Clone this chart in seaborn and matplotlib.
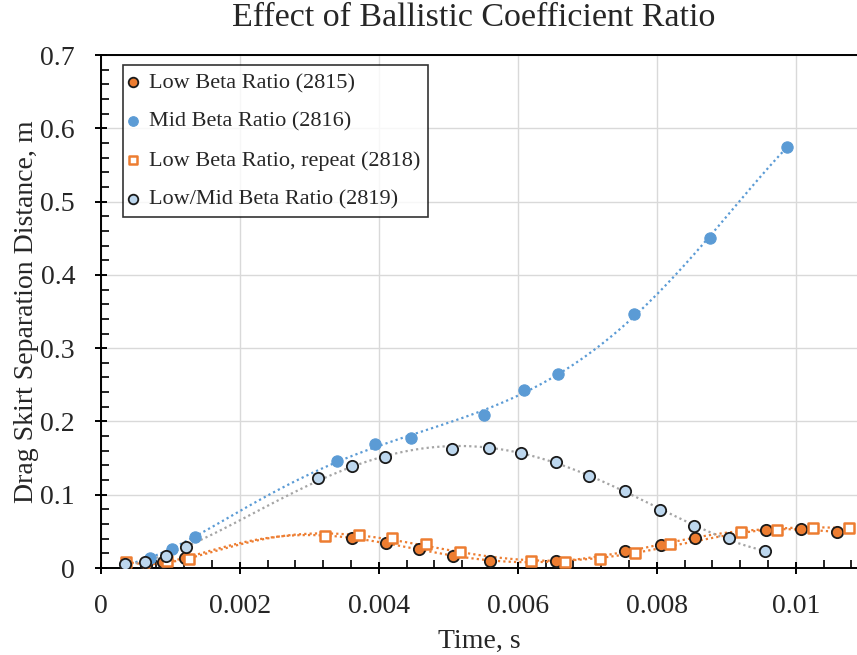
import numpy as np
import pandas as pd
import matplotlib
matplotlib.use("Agg")
import matplotlib.pyplot as plt
from matplotlib.ticker import MultipleLocator
import seaborn as sns
import warnings

warnings.filterwarnings("ignore")

# Test 2815: low beta ratio
t_2815 = [0.00065, 0.00090, 0.00121, 0.00362, 0.00410, 0.00458, 0.00507, 0.00560,
          0.00655, 0.00754, 0.00806, 0.00855, 0.00957, 0.01008, 0.01059]
d_2815 = [0.0040, 0.0080, 0.0133, 0.0410, 0.0340, 0.0255, 0.0168, 0.0096,
          0.0096, 0.0230, 0.0320, 0.0410, 0.0520, 0.0535, 0.0490]

# Test 2816: mid beta ratio
t_2816 = [0.00035, 0.00071, 0.00102, 0.00136, 0.00340, 0.00395, 0.00447, 0.00552,
          0.00609, 0.00658, 0.00767, 0.00877, 0.00987]
d_2816 = [0.0060, 0.0133, 0.0260, 0.0425, 0.1466, 0.1690, 0.1780, 0.2090,
          0.2430, 0.2650, 0.3466, 0.4500, 0.5747]

# Test 2818: low beta ratio, repeat
t_2818 = [0.00037, 0.00095, 0.00127, 0.00322, 0.00371, 0.00419, 0.00468, 0.00517,
          0.00619, 0.00668, 0.00718, 0.00769, 0.00819, 0.00921, 0.00973, 0.01024, 0.01077]
d_2818 = [0.0080, 0.0100, 0.0123, 0.0437, 0.0450, 0.0406, 0.0324, 0.0223,
          0.0096, 0.0078, 0.0127, 0.0209, 0.0324, 0.0488, 0.0523, 0.0542, 0.0550]

# Test 2819: low/mid beta ratio
t_2819 = [0.00035, 0.00064, 0.00094, 0.00123, 0.00313, 0.00361, 0.00409, 0.00505,
          0.00558, 0.00605, 0.00655, 0.00703, 0.00754, 0.00804, 0.00854, 0.00904, 0.00955]
d_2819 = [0.0060, 0.0086, 0.0168, 0.0283, 0.1225, 0.1390, 0.1520, 0.1620,
          0.1640, 0.1575, 0.1450, 0.1260, 0.1056, 0.0790, 0.0574, 0.0406, 0.0228]

series_names = ["Low Beta Ratio (2815)", "Mid Beta Ratio (2816)",
                "Low Beta Ratio, repeat (2818)", "Low/Mid Beta Ratio (2819)"]

x_ticks = [0, 0.002, 0.004, 0.006, 0.008, 0.01]
x_tick_labels = ["0", "0.002", "0.004", "0.006", "0.008", "0.01"]
y_ticks = [0, 0.1, 0.2, 0.3, 0.4, 0.5, 0.6, 0.7]
y_tick_labels = ["0", "0.1", "0.2", "0.3", "0.4", "0.5", "0.6", "0.7"]

ORANGE = "#ED7D31"
BLUE = "#5B9BD5"
LIGHT_BLUE = "#BDD7EE"
GREY = "#A5A5A5"

sns.set_style("white")
plt.rcParams["font.family"] = ["Liberation Serif", "DejaVu Serif"]

fig = plt.figure(figsize=(8.57, 6.55), dpi=100)
ax = fig.add_axes([0.1175, 0.1328, 0.8825, 0.7832])

# Polynomial trendlines, dotted
dotted = (0, (1, 1.4))
for xs, ys, col, order in [(t_2815, d_2815, ORANGE, 6), (t_2816, d_2816, BLUE, 5),
                           (t_2818, d_2818, ORANGE, 6), (t_2819, d_2819, GREY, 4)]:
    sns.regplot(x=np.array(xs), y=np.array(ys), ax=ax, order=order, ci=None,
                scatter=False, truncate=True,
                line_kws=dict(color=col, lw=1.6, linestyle=dotted, zorder=2))

ms = 66
sns.scatterplot(x=t_2815, y=d_2815, ax=ax, marker="o", s=ms, color=ORANGE,
                edgecolor="#1a1a1a", linewidth=1.3, label=series_names[0], zorder=3)
sns.scatterplot(x=t_2816, y=d_2816, ax=ax, marker="o", s=ms, color=BLUE,
                edgecolor=BLUE, linewidth=0.8, label=series_names[1], zorder=3)
sns.scatterplot(x=t_2818, y=d_2818, ax=ax, marker="s", s=52, color="white",
                edgecolor=ORANGE, linewidth=1.8, label=series_names[2], zorder=3)
sns.scatterplot(x=t_2819, y=d_2819, ax=ax, marker="o", s=ms, color=LIGHT_BLUE,
                edgecolor="#1a1a1a", linewidth=1.3, label=series_names[3], zorder=3)

ax.set_xlim(0, 0.01088)
ax.set_ylim(0, 0.7)
ax.set_xticks(x_ticks)
ax.set_xticklabels(x_tick_labels)
ax.set_yticks(y_ticks)
ax.set_yticklabels(y_tick_labels)
ax.xaxis.set_minor_locator(MultipleLocator(0.0004))
ax.yaxis.set_minor_locator(MultipleLocator(0.02))

ax.grid(True, which="major", color="#D9D9D9", lw=1.0)
ax.set_axisbelow(True)

for side in ["left", "bottom", "top"]:
    ax.spines[side].set_visible(True)
    ax.spines[side].set_color("black")
    ax.spines[side].set_linewidth(1.4)
ax.spines["right"].set_visible(False)

ax.tick_params(which="major", direction="inout", length=9, width=1.4, color="black",
               labelsize=20, pad=14, bottom=True, left=True, top=False, right=False)
ax.tick_params(which="minor", direction="in", length=6, width=1.2, color="black",
               bottom=True, left=True, top=False, right=False)
ax.tick_params(axis="y", which="major", pad=14)

ax.set_xlabel("Time, s", fontsize=20, labelpad=7)
ax.set_ylabel("Drag Skirt Separation Distance, m", fontsize=20, labelpad=1)
fig.text(473.5 / 857, 1 - 18 / 655, "Effect of Ballistic Coefficient Ratio",
         fontsize=24.5, ha="center", va="center")

leg = ax.legend(loc="upper left", bbox_to_anchor=(0.0295, 0.9805), borderaxespad=0,
                fontsize=16, frameon=True, fancybox=False, edgecolor="black",
                handlelength=0.25, handletextpad=0.58, labelspacing=0.82,
                borderpad=0.34, markerscale=0.85)
leg.get_frame().set_linewidth(1.2)

fig.savefig("out.png", dpi=100)
